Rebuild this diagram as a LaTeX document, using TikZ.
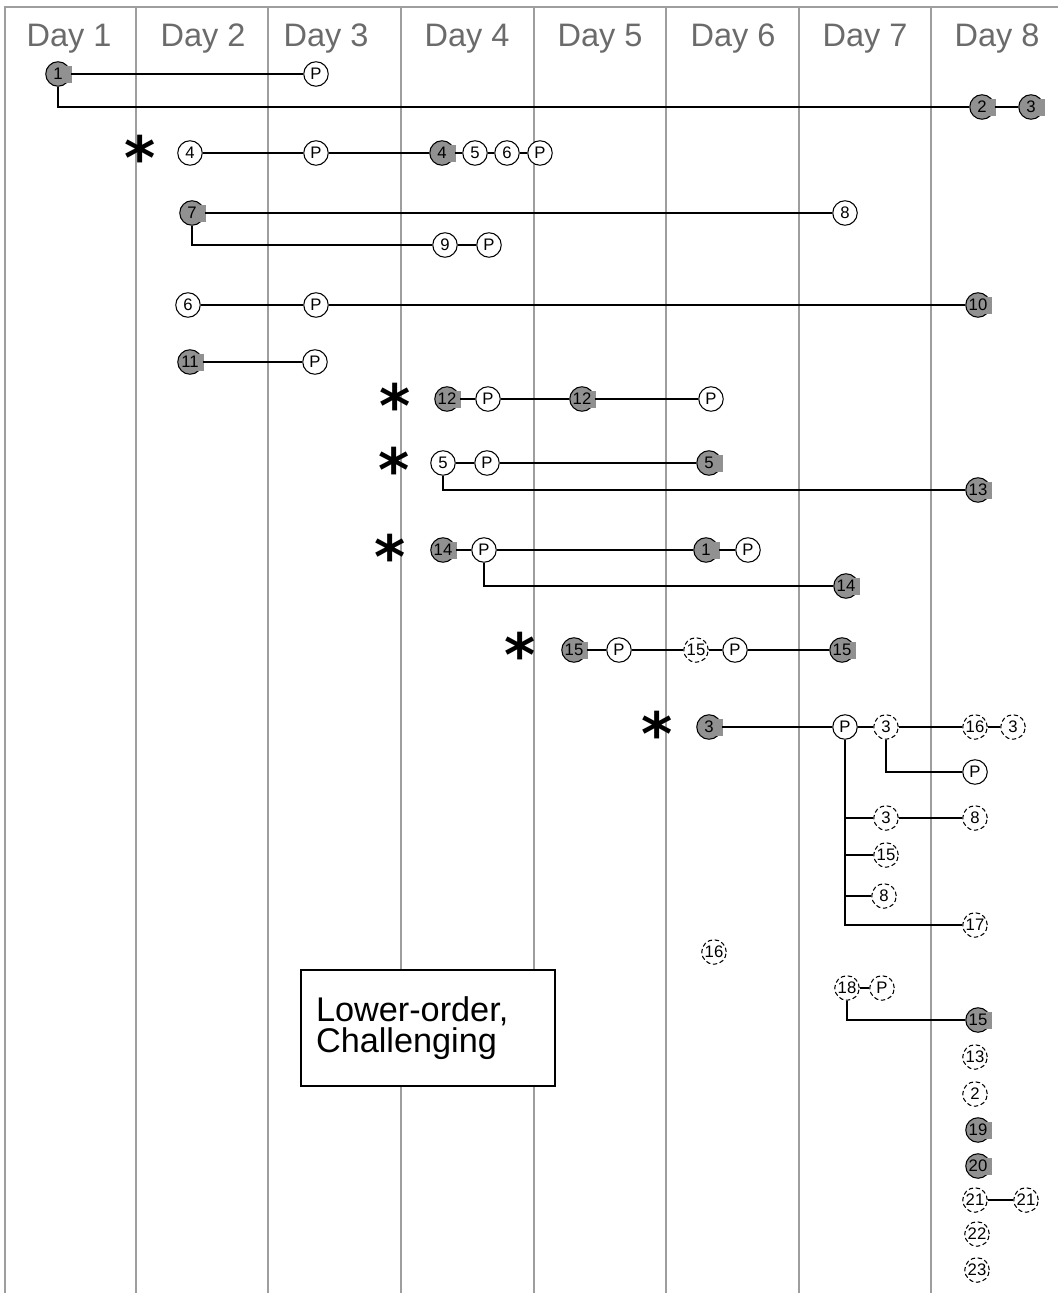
\documentclass[tikz,border=0pt]{standalone}
\usepackage{fontspec}
\setmainfont{Liberation Sans}
\newfontfamily\flagfont{DejaVu Sans}
\usetikzlibrary{positioning}
\definecolor{donegray}{gray}{0.57}
\definecolor{linegray}{gray}{0.62}
\definecolor{daytext}{gray}{0.42}
\newcommand{\flagmark}{\raisebox{-0.33em}[0.34em][0pt]{*}}

\begin{document}
\begin{tikzpicture}[x=0.02cm, y=-0.02cm,
    daylabel/.style={text=daytext, font=\fontsize{18.5}{20}\selectfont},
    dayline/.style={draw=linegray, line width=1.6pt},
    item/.style={circle, draw, fill=white, inner sep=0pt, minimum size=0.49cm, line width=0.6pt, font=\fontsize{9.5}{9.5}\selectfont},
    tentitem/.style={item, dash pattern=on 2.5pt off 1.5pt},
    donesq/.style={fill=donegray, inner sep=0pt, minimum width=6pt, minimum height=9.6pt},
    doneitem/.style={item, fill=donegray,
        label={[donesq, xshift=4.9pt, yshift=-0.3pt]center:{}},
        label={[font=\fontsize{9.5}{9.5}\selectfont]center:#1}},
    flag/.style={font=\flagfont\fontsize{34}{34}\selectfont\bfseries, inner sep=0pt},
    link/.style={line width=0.8pt}]
    \useasboundingbox (0,0) rectangle (1058,1293);

    % day columns
    \draw[dayline] (5,1293) -- (5,7) -- (1058,7);
    \draw[dayline] (136,7) -- (136,1293);
    \draw[dayline] (268,7) -- (268,1293);
    \draw[dayline] (401,7) -- (401,1293);
    \draw[dayline] (534,7) -- (534,1293);
    \draw[dayline] (666,7) -- (666,1293);
    \draw[dayline] (799,7) -- (799,1293);
    \draw[dayline] (931,7) -- (931,1293);

    \node[daylabel] (day1) at (69,39) {Day 1};
    \node[daylabel] (day2) at (203,39) {Day 2};
    \node[daylabel] (day3) at (326,39) {Day 3};
    \node[daylabel] (day4) at (467,39) {Day 4};
    \node[daylabel] (day5) at (600,39) {Day 5};
    \node[daylabel] (day6) at (733,39) {Day 6};
    \node[daylabel] (day7) at (865,39) {Day 7};
    \node[daylabel] (day8) at (997,39) {Day 8};

    % items per day
    \node[doneitem=1] (g1) at (58,74) {};
    \node[item] (p1) at (316,74) {P};
    \node[doneitem=2] (g2) at (982,107) {};
    \node[doneitem=3] (g3) at (1031,107) {};

    \node[flag] (star1) at (140,150) {\flagmark};
    \node[item] (o4) at (190,153) {4};
    \node[item] (p2) at (316,153) {P};
    \node[doneitem=4] (g4) at (442,153) {};
    \node[item] (o5) at (475,153) {5};
    \node[item] (o6) at (507,153) {6};
    \node[item] (p3) at (540,153) {P};

    \node[doneitem=7] (g7) at (192,213) {};
    \node[item] (o8) at (845,213) {8};
    \node[item] (o9) at (445,245) {9};
    \node[item] (p4) at (489,245) {P};

    \node[item] (o6b) at (188,305) {6};
    \node[item] (p5) at (316,305) {P};
    \node[doneitem=10] (g10) at (978,305) {};

    \node[doneitem=11] (g11) at (190,362) {};
    \node[item] (p6) at (315,362) {P};

    \node[flag] (star2) at (395,398) {\flagmark};
    \node[doneitem=12] (g12a) at (447,399) {};
    \node[item] (p7) at (488,399) {P};
    \node[doneitem=12] (g12b) at (582,399) {};
    \node[item] (p8) at (711,399) {P};

    \node[flag] (star3) at (394,462) {\flagmark};
    \node[item] (o5b) at (443,463) {5};
    \node[item] (p9) at (487,463) {P};
    \node[doneitem=5] (g5) at (709,463) {};
    \node[doneitem=13] (g13) at (978,490) {};

    \node[flag] (star4) at (390,549) {\flagmark};
    \node[doneitem=14] (g14) at (443,550) {};
    \node[item] (p10) at (484,550) {P};
    \node[doneitem=1] (g1b) at (706,550) {};
    \node[item] (p11) at (748,550) {P};
    \node[doneitem=14] (g14b) at (846,586) {};

    \node[flag] (star5) at (520,647) {\flagmark};
    \node[doneitem=15] (g15) at (574,650) {};
    \node[item] (p12) at (619,650) {P};
    \node[tentitem] (t15) at (696,650) {15};
    \node[item] (p13) at (735,650) {P};
    \node[doneitem=15] (g15b) at (842,650) {};

    \node[flag] (star6) at (657,726) {\flagmark};
    \node[doneitem=3] (g3b) at (709,727) {};
    \node[item] (p14) at (845,727) {P};
    \node[tentitem] (t3) at (886,727) {3};
    \node[tentitem] (t16) at (975,727) {16};
    \node[tentitem] (t3b) at (1013,727) {3};
    \node[item] (p15) at (975,772) {P};
    \node[tentitem] (t3c) at (886,818) {3};
    \node[tentitem] (t8) at (975,818) {8};
    \node[tentitem] (t15b) at (886,855) {15};
    \node[tentitem] (t8b) at (884,896) {8};
    \node[tentitem] (t17) at (975,925) {17};

    \node[tentitem] (t16b) at (714,952) {16};
    \node[tentitem] (t18) at (847,988) {18};
    \node[tentitem] (tp) at (882,988) {P};
    \node[doneitem=15] (g15c) at (978,1020) {};
    \node[tentitem] (t13) at (975,1057) {13};
    \node[tentitem] (t2) at (975,1094) {2};
    \node[doneitem=19] (g19) at (978,1130) {};
    \node[doneitem=20] (g20) at (978,1166) {};
    \node[tentitem] (t21) at (975,1200) {21};
    \node[tentitem] (t21b) at (1026,1200) {21};
    \node[tentitem] (t22) at (977,1234) {22};
    \node[tentitem] (t23) at (977,1270) {23};

    \node[draw, fill=white, line width=0.8pt, minimum width=5.08cm, minimum height=2.32cm,
          inner xsep=0.3cm, text width=4.48cm, align=left,
          font=\fontsize{19.5}{18}\selectfont] (box) at (428,1028) {Lower-order,\\Challenging};

    \draw[link] (g1) -- (p1);
    \draw[link] (g1) |- (g2);
    \draw[link] (g2) -- (g3);
    \draw[link] (o4) -- (p2) -- (g4) -- (o5) -- (o6) -- (p3);
    \draw[link] (g7) -- (o8);
    \draw[link] (g7) |- (o9);
    \draw[link] (o9) -- (p4);
    \draw[link] (o6b) -- (p5) -- (g10);
    \draw[link] (g11) -- (p6);
    \draw[link] (g12a) -- (p7) -- (g12b) -- (p8);
    \draw[link] (o5b) -- (p9) -- (g5);
    \draw[link] (o5b) |- (g13);
    \draw[link] (g14) -- (p10) -- (g1b) -- (p11);
    \draw[link] (p10) |- (g14b);
    \draw[link] (g15) -- (p12) -- (t15) -- (p13) -- (g15b);
    \draw[link] (g3b) -- (p14) -- (t3);
    \draw[link] (t3) -- (t16) -- (t3b);
    \draw[link] (t3) |- (p15);
    \draw[link] (p14) |- (t17);
    \draw[link] (p14 |- t3c) -- (t3c) -- (t8);
    \draw[link] (p14 |- t15b) -- (t15b);
    \draw[link] (p14 |- t8b) -- (t8b);
    \draw[link] (t18) -- (tp);
    \draw[link] (t18) |- (g15c);
    \draw[link] (t21) -- (t21b);
\end{tikzpicture}
\end{document}
